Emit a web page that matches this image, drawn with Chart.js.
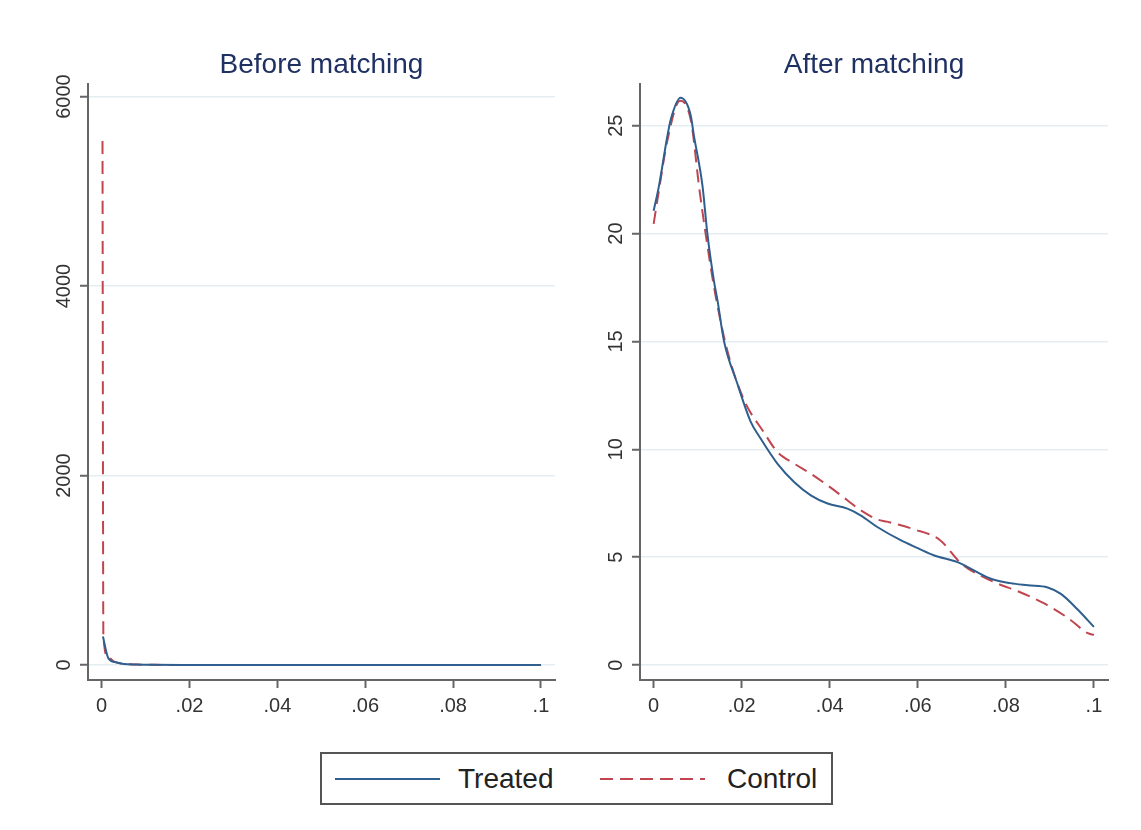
<!DOCTYPE html>
<html>
<head>
<meta charset="utf-8">
<script src="https://cdn.jsdelivr.net/npm/chart.js@4/dist/chart.umd.min.js"></script>
<style>
  html, body { margin: 0; padding: 0; background: #fff; }
  body { width: 1141px; height: 830px; position: relative; overflow: hidden; font-family: "Liberation Sans", Arial, sans-serif; }
  .panel { position: absolute; top: 40px; height: 710px; }
  #before { left: 0; width: 570px; }
  #after { left: 570px; width: 571px; }
  .legend { position: absolute; left: 320px; top: 752px; width: 513px; height: 53px; box-sizing: border-box; border: 2px solid #555; background: #fff; }
  .legend .swatch { position: absolute; top: 24px; width: 105px; height: 2px; }
  .legend .label { position: absolute; top: 8px; font-size: 28px; line-height: 34px; color: #222; }
</style>
</head>
<body>
<div class="panel" id="before"><canvas id="beforeChart"></canvas></div>
<div class="panel" id="after"><canvas id="afterChart"></canvas></div>
<div class="legend">
  <div class="swatch" style="left:13px; background:#2f5f8f;"></div>
  <div class="label" style="left:136px;">Treated</div>
  <div class="swatch" style="left:278px; background:repeating-linear-gradient(90deg, #c0454f 0 13px, transparent 13px 20px);"></div>
  <div class="label" style="left:405px;">Control</div>
</div>
<script>
// x grid values shared by both panels
const xTicks = [0, 0.02, 0.04, 0.06, 0.08, 0.1];

// Before matching
const beforeTreatedX = [0.0003, 0.0015, 0.003, 0.005, 0.008, 0.012, 0.02, 0.04, 0.06, 0.08, 0.1];
const beforeTreatedY = [300, 75, 32, 12, 5, 2, 1, 0.5, 0.3, 0.2, 0.1];
const beforeControlX = [0.0002, 0.0004, 0.0015, 0.003, 0.005, 0.008, 0.012, 0.02, 0.04, 0.06, 0.08, 0.1];
const beforeControlY = [5530, 310, 78, 33, 12, 5, 2, 1, 0.5, 0.3, 0.2, 0.1];
const beforeYTicks = [0, 2000, 4000, 6000];

// After matching
const afterTreatedX = [0, 0.0012, 0.0031, 0.0039, 0.0061, 0.0084, 0.0091, 0.0111, 0.0122, 0.0137, 0.0145, 0.016, 0.019, 0.022, 0.0243, 0.0281, 0.0319, 0.0357, 0.0395, 0.044, 0.047, 0.0508, 0.0561, 0.06, 0.0636, 0.069, 0.0766, 0.081, 0.085, 0.0895, 0.0925, 0.0962, 0.1];
const afterTreatedY = [21.06, 22.2, 24.5, 25.3, 26.3, 25.5, 24.6, 22.2, 20.0, 17.8, 16.9, 15.0, 13.05, 11.3, 10.5, 9.34, 8.49, 7.87, 7.49, 7.25, 6.94, 6.4, 5.79, 5.42, 5.09, 4.77, 4.0, 3.8, 3.7, 3.6, 3.3, 2.6, 1.77];
const afterControlX = [0, 0.0012, 0.0031, 0.006, 0.0085, 0.0103, 0.0118, 0.014, 0.0167, 0.0205, 0.025, 0.0281, 0.0319, 0.0357, 0.0395, 0.044, 0.047, 0.0508, 0.053, 0.059, 0.065, 0.0698, 0.0773, 0.083, 0.0886, 0.094, 0.0986, 0.1];
const afterControlY = [20.45, 22.0, 24.3, 26.15, 25.2, 22.2, 20.0, 17.2, 14.6, 12.3, 10.8, 9.88, 9.34, 8.87, 8.33, 7.64, 7.18, 6.75, 6.65, 6.3, 5.8, 4.72, 3.85, 3.4, 2.87, 2.2, 1.48, 1.4];
const afterYTicks = [0, 5, 10, 15, 20, 25];

const FONT = '"Liberation Sans", Arial, sans-serif';
const colors = {
    treated: '#2f5f8f',
    control: '#c0454f',
    grid: '#e4eef2',
    axis: '#666666',
    text: '#333333',
    title: '#1f3163'
};

const toPoints = (xs, ys) => xs.map((x, i) => ({ x: x, y: ys[i] }));

// Stata style y labels: rotated, centred on the tick
const rotatedYLabels = {
    id: 'rotatedYLabels',
    afterDraw(chart) {
        const scale = chart.scales.y;
        const ctx = chart.ctx;
        ctx.save();
        ctx.font = '20px ' + FONT;
        ctx.fillStyle = colors.text;
        ctx.textAlign = 'center';
        ctx.textBaseline = 'middle';
        scale.ticks.forEach(t => {
            const py = scale.getPixelForValue(t.value);
            ctx.save();
            ctx.translate(scale.right - 24, py);
            ctx.rotate(-Math.PI / 2);
            ctx.fillText(String(t.value), 0, 0);
            ctx.restore();
        });
        ctx.restore();
    }
};

const makePanel = (canvasId, title, treated, control, yTicks, yMin, yMax, yWidth, padRight) => {
    return new Chart(document.getElementById(canvasId), {
        type: 'line',
        data: {
            datasets: [{
                label: 'Treated',
                data: treated,
                borderColor: colors.treated,
                borderWidth: 2,
                pointRadius: 0,
                fill: false,
                cubicInterpolationMode: 'monotone'
            }, {
                label: 'Control',
                data: control,
                borderColor: colors.control,
                borderWidth: 2,
                borderDash: [13, 7],
                pointRadius: 0,
                fill: false,
                cubicInterpolationMode: 'monotone'
            }]
        },
        options: {
            responsive: true,
            maintainAspectRatio: false,
            animation: false,
            layout: { padding: { left: 0, right: padRight, top: 0, bottom: 0 } },
            plugins: {
                legend: { display: false },
                tooltip: { enabled: false },
                title: {
                    display: true,
                    fullSize: false,
                    text: title,
                    color: colors.title,
                    font: { family: FONT, size: 28, weight: 'normal' },
                    padding: { top: 8, bottom: 2 }
                }
            },
            scales: {
                x: {
                    type: 'linear',
                    min: -0.0031,
                    max: 0.1032,
                    afterBuildTicks: (scale) => { scale.ticks = xTicks.map(v => ({ value: v })); },
                    afterFit: (scale) => { scale.height = 70; },
                    grid: { drawOnChartArea: false, drawTicks: true, tickLength: 8, tickColor: colors.axis, tickWidth: 2 },
                    border: { color: colors.axis, width: 2 },
                    ticks: {
                        color: colors.text,
                        padding: 6,
                        maxRotation: 0,
                        font: { family: FONT, size: 20 },
                        callback: (v) => String(Math.round(v * 100) / 100).replace(/^0\./, '.')
                    }
                },
                y: {
                    min: yMin,
                    max: yMax,
                    afterBuildTicks: (scale) => { scale.ticks = yTicks.map(v => ({ value: v })); },
                    afterFit: (scale) => { scale.width = yWidth; },
                    grid: { color: colors.grid, lineWidth: 1.5, drawTicks: true, tickLength: 8, tickColor: colors.axis, tickWidth: 2 },
                    border: { color: colors.axis, width: 2 },
                    ticks: { display: false }
                }
            }
        },
        plugins: [rotatedYLabels]
    });
};

makePanel('beforeChart', 'Before matching',
    toPoints(beforeTreatedX, beforeTreatedY), toPoints(beforeControlX, beforeControlY),
    beforeYTicks, -158, 6137, 88, 15);

makePanel('afterChart', 'After matching',
    toPoints(afterTreatedX, afterTreatedY), toPoints(afterControlX, afterControlY),
    afterYTicks, -0.69, 26.95, 70, 33);
</script>
</body>
</html>
